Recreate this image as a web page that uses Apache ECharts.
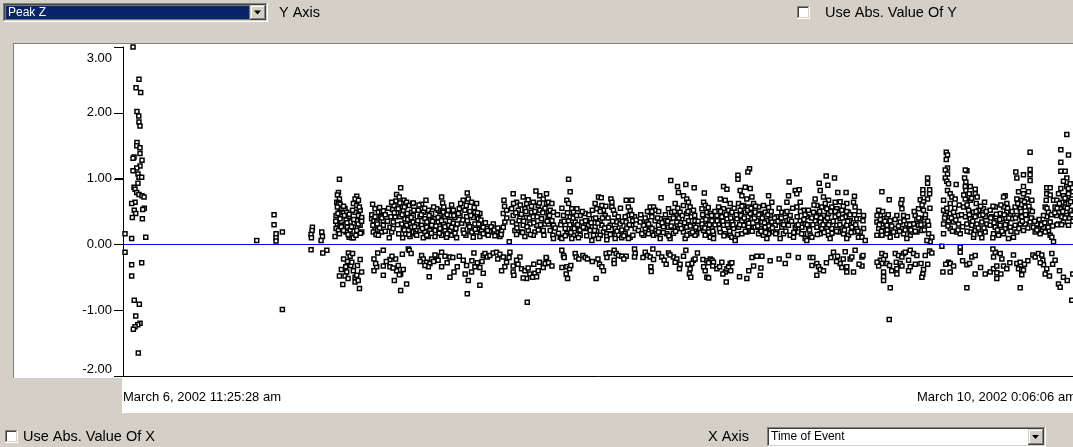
<!DOCTYPE html>
<html><head><meta charset="utf-8">
<script src="https://cdn.jsdelivr.net/npm/echarts@6/dist/echarts.min.js"></script>
<style>
html,body{margin:0;padding:0;background:#D4D0C8;}
#wrap{position:relative;width:1073px;height:447px;overflow:hidden;}
.panel{position:absolute;background:#FFFFFF;}
#c{position:absolute;left:0;top:0;width:1073px;height:447px;}
</style>
</head><body><div id="wrap">
<div class="panel" style="left:14px;top:44px;width:1059px;height:334px;"></div>
<div class="panel" style="left:122px;top:376px;width:951px;height:37px;"></div>
<div id="c"></div></div>
<script>
// ---- axis / labels ----
const startLabel = 'March 6, 2002 11:25:28 am';
const endLabel = 'March 10, 2002 0:06:06 am';
const spanHours = 84.677;           // hours between the two end labels
const yMin = -2, yMax = 3, yStep = 1;
const yTickValues = [-2, -1, 0, 1, 2, 3];
const yAxisTitle = 'Y Axis', xAxisTitle = 'X Axis';
const ySelection = 'Peak Z', xSelection = 'Time of Event';
const absYText = 'Use Abs. Value Of Y', absXText = 'Use Abs. Value Of X';

// ---- data: [hours since start, Peak Z] ----
const earlyBurst = [[0.89,3.00],[1.42,2.51],[1.16,2.38],[1.57,2.31],[1.24,2.02],[1.40,1.95],[1.42,1.86],[1.51,1.80],[1.24,1.55],[1.22,1.50],[1.51,1.47],[1.51,1.38],[0.98,1.33],[0.89,1.31],[1.69,1.28],[1.51,1.19],[1.22,1.16],[0.89,1.12],[1.33,1.07],[1.42,1.02],[1.66,1.02],[1.33,0.93],[0.98,0.87],[1.07,0.84],[1.22,0.79],[1.42,0.76],[1.69,0.74],[1.87,0.72],[1.07,0.64],[0.77,0.62],[1.89,0.55],[1.75,0.53],[1.00,0.52],[1.13,0.47],[0.83,0.41],[1.72,0.39],[0.18,0.16],[0.77,0.09],[2.02,0.11],[0.18,-0.12],[0.77,-0.31],[1.66,-0.28],[0.77,-0.48],[1.00,-0.85],[1.45,-0.91],[1.13,-1.09],[1.51,-1.20],[1.31,-1.22],[1.07,-1.25],[0.92,-1.29],[1.36,-1.65]];
const sparseRun = [[11.88,0.06],[13.42,0.45],[13.42,0.30],[13.60,0.16],[13.60,0.10],[13.60,0.05],[14.16,0.19],[14.16,-0.99],[16.83,0.26],[16.80,0.21],[16.71,0.15],[16.74,0.10],[16.71,-0.08],[17.66,0.19],[17.72,0.12],[17.60,0.06],[18.11,-0.09],[17.75,-0.13]];
const band1 = [[19.23,0.99],[19.14,0.79],[19.05,0.75],[19.23,0.69],[18.99,0.64],[19.14,0.62],[19.29,0.61],[19.05,0.57],[19.44,0.54],[19.23,0.49],[18.93,0.44],[19.29,0.39],[19.05,0.31],[19.29,0.29],[18.93,0.24],[19.14,0.21],[18.84,0.12],[19.23,0.16],
[19.73,0.54],[19.88,0.49],[19.67,0.44],[20.03,0.42],[19.82,0.37],[20.18,0.34],[19.73,0.30],[19.94,0.26],[20.18,0.22],[19.82,0.19],[20.09,0.11],[20.33,0.10],
[20.77,0.73],[20.62,0.69],[20.92,0.67],[20.47,0.62],[20.77,0.59],[21.07,0.52],[20.62,0.49],[20.92,0.44],[21.21,0.41],[20.77,0.36],[21.07,0.29],[20.47,0.26],[20.77,0.21],[21.21,0.19],[20.18,0.14],[20.47,0.10],
[20.03,-0.13],[20.18,-0.18],[19.94,-0.26],[19.79,-0.34],[20.24,-0.32],[19.88,-0.42],[19.23,-0.48],[19.73,-0.48],[19.53,-0.61],[20.62,-0.50],[20.77,-0.47],[20.83,-0.32],[21.07,-0.23],[21.01,-0.67],[20.62,-0.57],[20.47,-0.40],[20.33,-0.27],
[22.18,0.61],[22.39,0.54],[22.69,0.49],[22.98,0.50],[23.13,0.51],[22.09,0.39],[22.30,0.36],[22.54,0.34],[22.89,0.42],[23.13,0.36],[22.39,0.26],[22.63,0.22],[22.24,0.19],[22.98,0.19],[22.48,0.15],[22.69,0.14],[23.13,0.29],
[23.66,0.10],[23.87,0.19],[23.72,0.26],[24.02,0.34],[24.17,0.42],[24.31,0.48],[23.93,0.53],[24.25,0.66],[24.31,0.76],[24.08,0.59],[23.87,0.64],
[24.67,0.86],[24.55,0.72],[24.97,0.67],[24.76,0.62],[25.20,0.64],[25.44,0.59],[24.46,0.54],[24.91,0.52],[25.26,0.47],[25.65,0.49],[25.79,0.44],[24.61,0.42],[25.05,0.39],[25.44,0.37],[25.79,0.34],[24.76,0.31],[25.20,0.29],[25.65,0.26],[24.91,0.24],[25.35,0.21],[25.79,0.19],[24.85,0.10],[25.11,0.16],[25.50,0.12],[26.00,0.16],[25.73,0.62],[25.85,0.52],
[22.63,-0.13],[23.13,-0.09],[22.30,-0.22],[22.54,-0.34],[22.45,-0.29],[23.13,-0.33],[23.72,-0.23],[24.22,-0.22],[24.46,-0.32],[24.31,-0.40],[24.67,-0.45],[24.55,-0.46],[24.11,-0.55],[25.20,-0.60],[24.67,-0.70],[24.82,-0.15],[25.35,-0.07],[25.44,-0.09],[22.30,-0.40],[23.72,-0.34],[23.13,-0.47]];
const band2 = [[26.92,0.67],[26.53,0.61],[26.24,0.52],[26.68,0.49],[27.13,0.52],[27.42,0.47],[26.39,0.42],[26.83,0.39],[27.27,0.37],[27.72,0.39],[26.09,0.31],[26.53,0.29],[26.98,0.26],[27.42,0.29],[26.39,0.21],[26.83,0.19],[27.27,0.21],[27.72,0.21],[26.09,0.14],[26.68,0.10],[27.13,0.12],[27.72,0.12],[25.79,0.63],
[28.31,0.72],[28.40,0.63],[28.01,0.52],[28.46,0.49],[28.90,0.52],[29.35,0.52],[28.16,0.44],[28.61,0.42],[29.05,0.44],[29.49,0.41],[28.01,0.34],[28.46,0.31],[28.90,0.29],[29.35,0.32],[28.16,0.24],[28.61,0.21],[29.05,0.21],[29.58,0.24],[28.31,0.14],[28.75,0.11],[29.20,0.14],[29.64,0.10],[27.87,0.54],
[26.53,-0.17],[26.68,-0.22],[26.98,-0.27],[27.27,-0.29],[27.13,-0.34],[26.83,-0.32],[27.42,-0.22],[27.87,-0.18],[28.31,-0.12],[28.61,-0.18],[29.05,-0.19],[27.21,-0.49],[28.31,-0.34],[29.05,-0.50],[27.72,-0.16]];
const band3 = [[30.59,0.78],[30.23,0.67],[30.68,0.69],[30.97,0.64],[31.42,0.62],[29.88,0.54],[30.38,0.52],[30.83,0.50],[31.27,0.49],[31.71,0.47],[29.94,0.44],[30.53,0.42],[31.12,0.41],[31.57,0.39],[30.09,0.32],[30.68,0.30],[31.27,0.31],[31.71,0.29],[30.23,0.22],[30.83,0.21],[31.42,0.19],[31.86,0.21],[30.47,0.14],[31.12,0.11],[31.71,0.12],
[32.90,0.31],[32.31,0.24],[32.60,0.19],[33.19,0.18],[33.64,0.21],[32.01,0.16],[32.45,0.14],[33.05,0.13],[33.49,0.12],[33.79,0.26],[33.85,0.67],[33.79,0.47],[34.08,0.52],[33.93,0.34],[34.32,0.04],
[29.41,-0.42],[29.70,-0.34],[29.88,-0.18],[30.23,-0.24],[30.53,-0.32],[30.68,-0.55],[30.59,-0.75],[30.97,-0.42],[31.27,-0.34],[31.48,-0.28],[31.71,-0.35],[32.01,-0.44],[31.71,-0.62],[31.18,-0.13],[32.01,-0.17],[32.31,-0.18],
[32.16,-0.14],[32.37,-0.19],[32.60,-0.17],[32.90,-0.13],[33.19,-0.12],[33.49,-0.15],[33.79,-0.19],[34.08,-0.27],[33.93,-0.34],[33.64,-0.40],[34.38,-0.12],[35.27,-0.19],[34.97,-0.24],[34.67,-0.33],[34.67,-0.42],[34.73,-0.47]];
const band4 = [[34.67,0.77],[35.56,0.72],[36.69,0.81],[37.04,0.74],[37.63,0.77],[37.34,0.69],[34.97,0.64],[35.86,0.62],[36.45,0.64],[36.89,0.59],[37.63,0.62],[34.53,0.54],[35.12,0.52],[35.71,0.54],[36.30,0.49],[37.04,0.52],[37.78,0.49],[34.67,0.44],[35.27,0.42],[35.86,0.41],[36.45,0.42],[37.19,0.39],[37.78,0.42],[34.97,0.31],[35.56,0.29],[36.15,0.31],[36.75,0.29],[37.49,0.31],[34.82,0.21],[35.41,0.19],[36.01,0.21],[36.60,0.19],[37.34,0.21],[34.97,0.15],[35.71,0.12],[36.45,0.14],
[35.41,-0.37],[35.71,-0.40],[36.15,-0.45],[35.86,-0.52],[36.39,-0.50],[36.60,-0.44],[36.75,-0.49],[36.89,-0.40],[37.34,-0.35],[37.57,-0.29],[37.63,-0.22],[35.92,-0.88],[35.56,-0.51]];
const band5 = [[37.81,0.64],[38.11,0.62],[37.96,0.52],[38.25,0.49],[38.11,0.36],[37.81,0.31],[38.25,0.29],[37.96,0.21],[38.20,0.14],[38.25,0.09],
[39.59,0.99],[39.73,0.80],[39.44,0.67],[39.59,0.62],[39.88,0.54],[40.33,0.54],[39.14,0.44],[40.03,0.49],[40.62,0.44],[38.99,0.34],[39.59,0.36],[40.18,0.34],[40.77,0.34],[39.29,0.24],[39.88,0.26],[40.47,0.21],[38.85,0.11],[39.44,0.16],[40.03,0.14],[40.62,0.14],[38.99,0.09],[39.88,0.09],[40.47,0.10],[41.07,0.47],[39.73,0.42],
[42.25,0.72],[42.49,0.71],[41.95,0.62],[42.55,0.59],[42.10,0.54],[42.69,0.52],[42.84,0.44],[41.21,0.36],[41.81,0.39],[42.40,0.36],[41.36,0.29],[41.95,0.27],[42.55,0.29],[41.51,0.21],[42.10,0.20],[42.69,0.19],[41.07,0.24],[41.81,0.14],[42.40,0.14],[42.99,0.16],[41.66,0.06],[42.25,0.09],
[43.35,0.69],[43.44,0.64],[43.44,0.57],[43.58,0.52],[44.71,0.67],[45.21,0.67],[45.06,0.52],[44.91,0.44],[44.62,0.42],[43.88,0.34],[44.17,0.31],[43.29,0.29],[43.73,0.24],[44.32,0.22],[44.77,0.25],[42.99,0.12],[43.44,0.16],[44.03,0.14],[44.62,0.16],[45.06,0.11],[42.99,0.07],[43.73,0.09],[44.32,0.10],[44.91,0.09],[43.14,0.26],
[45.45,0.42],[45.30,0.36],[45.21,0.29],[45.51,0.24],[46.25,0.31],[46.84,0.57],[47.14,0.57],[47.28,0.52],[46.84,0.49],[46.99,0.42],[47.28,0.36],[46.54,0.36],[46.40,0.24],[46.84,0.26],[47.28,0.21],[46.25,0.14],[46.69,0.16],[47.14,0.14],[47.43,0.16],[46.25,0.29],[45.95,0.34],
[47.81,0.71],[48.67,0.97],[49.27,0.88],[49.35,0.79],[49.06,0.62],[48.47,0.54],[48.76,0.49],[49.21,0.44],[47.73,0.39],[48.17,0.36],[48.61,0.39],[49.21,0.34],[47.58,0.29],[48.02,0.27],[48.47,0.26],[48.91,0.26],[49.35,0.24],[47.58,0.19],[48.32,0.16],[48.91,0.17],[47.73,0.09],[48.61,0.09],
[50.01,0.91],[50.75,0.86],[49.80,0.74],[50.09,0.69],[50.24,0.64],[49.80,0.59],[50.39,0.57],[49.50,0.49],[50.09,0.47],[50.69,0.52],[49.65,0.39],[50.24,0.36],[50.83,0.36],[49.50,0.29],[50.09,0.26],[50.69,0.29],[51.13,0.24],[49.80,0.19],[50.39,0.16],[50.98,0.16],[49.95,0.09],[50.83,0.14]];
const band6 = [[37.60,-0.20],[37.51,-0.29],[37.81,-0.28],[38.11,-0.33],[38.99,-0.09],[39.14,-0.17],[39.20,-0.20],[39.44,-0.34],[39.68,-0.37],[39.79,-0.32],[39.38,-0.45],[39.50,-0.52],[40.18,-0.14],[40.27,-0.19],[40.86,-0.17],[41.07,-0.20],[41.27,-0.22],[42.34,-0.30],[42.55,-0.34],[42.69,-0.40],[42.04,-0.52],[42.93,-0.14],[43.23,-0.13],[43.64,-0.09],[43.82,-0.14],[44.03,-0.17],[44.32,-0.18],[44.71,-0.18],[43.64,-0.24],[43.64,-0.29],[45.45,-0.07],[45.51,-0.14],[45.45,-0.19],[46.40,-0.12],[46.60,-0.17],[46.84,-0.19],[47.14,-0.23],[47.08,-0.07],[46.90,-0.34],[46.93,-0.41],[47.58,-0.14],[47.87,-0.19],[48.08,-0.24],[48.26,-0.30],[48.47,-0.13],[48.91,-0.19],[49.21,-0.22],[49.06,-0.27],[49.50,-0.30],[49.44,-0.37],[50.01,-0.09],[50.69,-0.24],[50.54,-0.29],[50.83,-0.22],[50.39,-0.37],[50.33,-0.45],[50.45,-0.50],[51.04,-0.13]];
const band7 = [[51.65,0.78],[51.59,0.64],[51.73,0.59],[51.44,0.54],[51.88,0.49],[52.18,0.47],[51.59,0.42],[52.03,0.37],[52.33,0.36],[51.44,0.31],[51.88,0.29],[52.33,0.26],[51.59,0.21],[52.03,0.19],[52.47,0.16],[51.73,0.14],[52.18,0.11],[52.47,0.09],
[53.36,0.88],[53.66,0.84],[53.07,0.69],[53.51,0.67],[53.95,0.62],[52.92,0.57],[53.36,0.54],[53.81,0.52],[54.10,0.49],[52.77,0.44],[53.21,0.42],[53.66,0.39],[54.10,0.36],[52.92,0.31],[53.36,0.29],[53.81,0.26],[54.25,0.24],[53.07,0.19],[53.51,0.16],[53.95,0.14],[54.10,0.11],[54.40,0.09],[54.40,0.06],
[55.67,1.15],[55.52,1.10],[54.64,1.05],[54.64,0.99],[54.84,0.82],[55.29,0.87],[55.73,0.85],[54.99,0.74],[55.43,0.69],[55.88,0.72],[54.69,0.62],[55.14,0.59],[55.58,0.57],[56.03,0.62],[54.84,0.52],[55.29,0.49],[55.73,0.47],[54.55,0.39],[54.99,0.36],[55.43,0.36],[55.88,0.39],[54.69,0.26],[55.14,0.29],[55.58,0.27],[56.03,0.26],[54.99,0.16],[55.43,0.19],
[57.36,0.74],[57.65,0.64],[56.47,0.57],[56.91,0.59],[57.36,0.56],[56.17,0.49],[56.62,0.47],[57.06,0.49],[57.51,0.44],[56.32,0.36],[56.77,0.34],[57.21,0.36],[57.65,0.34],[56.17,0.26],[56.62,0.24],[57.06,0.26],[57.51,0.24],[56.47,0.16],[56.91,0.14],[57.36,0.16],[57.80,0.19],[57.21,0.09],
[59.19,0.95],[59.13,0.74],[58.99,0.64],[58.54,0.49],[58.10,0.42],[58.84,0.47],[59.28,0.44],[58.39,0.34],[58.99,0.36],[57.95,0.29],[58.54,0.26],[59.13,0.29],[58.10,0.19],[58.69,0.16],[59.28,0.14],[58.39,0.09],[59.58,0.11],[59.73,0.26],
[59.73,0.82],[60.08,0.83],[59.87,0.77],[60.17,0.64],[60.47,0.52],[59.87,0.57],[60.76,0.42],[60.17,0.36],[60.61,0.31],[59.87,0.29],[60.32,0.26],[60.91,0.24],[60.02,0.19],[60.47,0.16],[61.06,0.14],[60.61,0.09],[61.21,0.11],[60.76,0.06],
[61.86,0.93],[62.63,0.90],[62.48,1.04],[61.95,0.82],[61.50,0.69],[62.24,0.72],[62.69,0.67],[61.65,0.59],[62.09,0.57],[62.54,0.54],[62.98,0.57],[61.35,0.49],[61.80,0.47],[62.24,0.44],[62.69,0.47],[61.50,0.36],[61.95,0.34],[62.39,0.36],[62.83,0.34],[61.65,0.26],[62.09,0.24],[62.54,0.26],[62.98,0.24],[61.95,0.16],[62.69,0.14],[62.83,0.09],
[63.22,1.01],[63.51,0.79],[64.25,0.79],[64.99,0.73],[63.28,0.64],[63.72,0.65],[64.31,0.62],[64.91,0.64],[63.43,0.54],[63.87,0.52],[64.46,0.49],[65.05,0.57],[63.28,0.42],[63.72,0.39],[64.17,0.42],[64.61,0.36],[65.20,0.39],[63.43,0.29],[63.87,0.26],[64.31,0.29],[64.76,0.26],[65.20,0.24],[63.57,0.19],[64.02,0.16],[64.46,0.14],[64.91,0.19],[65.35,0.11],[64.31,0.09]];
const band8 = [[51.53,-0.23],[51.88,-0.25],[52.18,-0.22],[52.33,-0.24],[52.47,-0.27],[52.03,-0.28],[51.59,-0.34],[51.73,-0.40],[51.88,-0.50],[52.03,-0.51],[52.77,-0.37],[53.01,-0.34],[53.21,-0.27],[53.51,-0.42],[53.66,-0.37],[53.81,-0.34],[53.95,-0.29],[53.60,-0.57],[54.10,-0.28],[54.78,-0.49],[55.43,-0.52],[55.88,-0.20],[56.32,-0.18],[56.77,-0.18],[56.03,-0.33],[56.68,-0.36],[56.62,-0.47],[58.84,-0.29],[59.13,-0.17],[61.06,-0.20],[61.30,-0.20],[61.21,-0.32],[61.65,-0.29],[61.80,-0.34],[61.95,-0.38],[61.65,-0.47],[62.24,-0.40],[63.13,-0.12],[63.49,-0.18],[64.17,-0.11],[63.72,-0.29],[63.87,-0.35],[64.31,-0.34],[64.61,-0.22],[64.76,-0.19],[65.05,-0.09],[64.31,-0.42],[64.91,-0.42]];
const band9 = [[65.51,0.39],[65.80,0.44],[65.75,0.36],[65.80,0.24],[65.66,0.11],[65.95,0.06],[65.51,0.19],
[67.43,0.80],[68.08,0.68],[67.14,0.52],[67.29,0.44],[67.58,0.39],[67.88,0.41],[66.99,0.34],[67.43,0.31],[67.88,0.29],[68.17,0.36],[67.14,0.24],[67.58,0.21],[68.02,0.19],[66.99,0.14],[67.43,0.14],[67.88,0.16],[68.17,0.11],[67.29,0.38],
[69.21,0.68],[69.12,0.62],[69.21,0.54],[68.76,0.44],[69.36,0.44],[69.06,0.34],[69.65,0.31],[68.62,0.24],[69.21,0.24],[69.80,0.24],[70.10,0.31],[68.76,0.14],[69.36,0.16],[69.95,0.14],[68.47,0.19],[70.10,0.19],[69.65,0.09],
[71.49,1.01],[71.49,0.93],[71.07,0.83],[71.67,0.83],[71.07,0.77],[71.67,0.77],[71.49,0.69],[70.84,0.68],[71.13,0.65],[70.69,0.54],[71.13,0.52],[70.39,0.44],[70.84,0.39],[71.28,0.41],[70.24,0.31],[70.69,0.29],[71.13,0.31],[71.58,0.29],[70.54,0.19],[70.98,0.21],[71.58,0.16],[71.87,0.11],[71.72,0.04],[71.43,0.06],[70.54,0.38],
[73.15,1.40],[73.26,1.36],[73.15,1.29],[73.26,1.16],[73.06,1.13],[73.26,1.07],[73.06,1.01],[73.20,0.96],[73.35,0.92],[73.26,0.82],[73.50,0.77],[73.65,0.72],[73.94,0.69],[74.03,0.91],[72.91,0.67],[72.91,0.52],[73.06,0.44],[73.50,0.47],[73.80,0.49],[74.24,0.44],[72.91,0.31],[73.35,0.36],[73.80,0.34],[74.24,0.31],[72.91,0.16],[74.09,0.19],[74.39,0.16],[73.50,0.24],
[74.98,1.12],[74.84,1.13],[74.78,1.01],[74.89,0.95],[74.84,0.88],[75.28,0.88],[74.89,0.82],[75.19,0.77],[75.72,0.84],[75.72,0.77],[74.84,0.69],[75.28,0.67],[75.81,0.62],[76.55,0.64],[74.69,0.57],[75.13,0.52],[75.57,0.49],[76.02,0.52],[76.46,0.54],[74.84,0.42],[75.28,0.39],[75.72,0.42],[76.16,0.44],[76.61,0.42],[74.98,0.31],[75.42,0.29],[75.87,0.31],[76.31,0.34],[76.76,0.31],[75.28,0.19],[75.72,0.21],[76.16,0.16],[76.61,0.19],[75.57,0.11],[76.31,0.10],
[78.38,0.74],[78.24,0.72],[78.53,0.62],[78.24,0.57],[77.05,0.52],[77.50,0.57],[77.94,0.47],[78.53,0.49],[78.83,0.44],[77.20,0.42],[77.64,0.36],[78.09,0.39],[78.53,0.34],[78.98,0.39],[77.05,0.29],[77.50,0.26],[77.94,0.29],[78.38,0.24],[78.83,0.26],[77.35,0.16],[77.79,0.14],[78.24,0.16],[78.68,0.09],[79.12,0.11],[77.29,0.10],
[80.60,1.40],[80.60,1.14],[80.60,1.06],[80.01,1.06],[80.60,0.97],[79.33,1.10],[79.42,1.01],[80.01,0.88],[79.57,0.80],[80.01,0.77],[80.46,0.80],[79.42,0.69],[79.86,0.67],[80.31,0.69],[80.75,0.67],[79.27,0.57],[79.72,0.54],[80.16,0.57],[80.60,0.52],[79.42,0.44],[79.86,0.42],[80.31,0.44],[80.75,0.39],[79.27,0.29],[79.72,0.31],[80.16,0.31],[80.60,0.34],[79.42,0.19],[80.01,0.21],
[80.90,0.26],[81.34,0.24],[81.79,0.26],[82.23,0.21],[81.05,0.19],[81.49,0.16],[81.94,0.19],[82.38,0.14],[81.20,0.31],[82.08,0.86],[82.38,0.86],[82.08,0.77],[82.38,0.75],[82.68,0.67],[82.03,0.67],[81.94,0.57],[82.23,0.49],[82.08,0.42],[82.38,0.34],[81.79,0.44],[82.53,0.11],[82.68,0.04],
[83.86,1.67],[83.33,1.44],[84.01,1.36],[83.33,1.25],[83.33,1.11],[83.71,1.11],[83.86,1.01],[83.56,0.96],[83.33,0.85],[83.86,0.88],[84.16,0.92],[83.12,0.77],[83.56,0.74],[84.01,0.77],[82.97,0.67],[83.42,0.64],[83.86,0.67],[84.30,0.69],[82.82,0.57],[83.27,0.54],[83.71,0.57],[84.16,0.52],[82.97,0.44],[83.42,0.42],[83.86,0.44],[83.12,0.31],[83.56,0.34],[84.01,0.29],[84.01,0.62]];
const band10 = [[65.66,-0.19],[65.66,-0.33],[65.75,-0.17],[67.43,-0.14],[67.73,-0.17],[67.29,-0.24],[67.58,-0.23],[67.43,-0.29],[67.14,-0.33],[67.88,-0.29],[68.11,-0.32],[67.58,-0.42],[67.58,-0.49],[67.58,-0.55],[68.17,-0.66],[68.08,-1.14],[68.62,-0.14],[68.91,-0.17],[69.36,-0.14],[69.21,-0.19],[68.71,-0.27],[69.06,-0.29],[68.76,-0.37],[69.21,-0.33],[68.76,-0.45],[69.51,-0.12],[69.95,-0.09],[70.24,-0.14],[70.54,-0.17],[69.80,-0.24],[69.95,-0.34],[69.80,-0.40],[70.90,-0.29],[71.13,-0.38],[71.07,-0.45],[70.98,-0.50],[71.28,-0.17],[71.67,-0.10],[71.87,-0.13],[72.76,-0.03],[72.85,-0.42],[73.50,-0.42],[73.35,-0.27],[73.50,-0.29],[73.80,-0.33],[74.39,-0.04],[74.39,-0.12],[74.98,-0.66],[74.98,-0.31],[75.22,-0.29],[75.42,-0.19],[75.72,-0.17],[75.72,-0.45],[76.61,-0.45],[77.05,-0.42],[77.35,-0.37],[77.64,-0.33],[77.64,-0.43],[77.64,-0.52],[77.50,-0.12],[77.94,-0.14],[78.09,-0.22],[78.24,-0.33],[78.53,-0.37],[77.29,-0.07],[77.35,-0.19],[79.12,-0.16],[79.42,-0.29],[79.72,-0.27],[79.57,-0.37],[79.86,-0.38],[80.01,-0.39],[79.86,-0.46],[79.72,-0.66],[80.84,-0.16],[81.05,-0.19],[81.34,-0.14],[81.64,-0.16],[81.73,-0.24],[81.79,-0.31],[82.08,-0.37],[81.94,-0.45],[82.32,-0.48],[82.53,-0.14],[82.82,-0.24],[83.21,-0.40],[83.56,-0.50],[83.12,-0.60],[83.27,-0.65],[84.30,-0.85],[84.39,-0.45]];
// points inside the solid (overplotted) parts of the band
const coreEarly = [[18.9,0.35],[19.1,0.47],[19.4,0.27],[19.6,0.58],[19.6,0.21],[19.9,0.33],[20.0,0.15],[20.1,0.46],[20.3,0.27],[20.4,0.52],[20.5,0.38],[20.7,0.14],[20.9,0.31],[21.0,0.57],[21.1,0.17],[21.2,0.35],[19.4,-0.38],[19.6,-0.22],[20.0,-0.52],[20.4,-0.14],[20.9,-0.55],[21.2,-0.42],
[22.1,0.45],[22.2,0.29],[22.4,0.42],[22.6,0.31],[22.8,0.56],[22.8,0.25],[23.0,0.40],[23.3,0.45],[23.3,0.20],[23.5,0.35],[23.6,0.55],[23.8,0.42],[24.0,0.24],[24.1,0.48],[24.4,0.30],[24.5,0.16],[24.6,0.63],[24.8,0.45],[25.0,0.57],[25.0,0.22],[25.3,0.38],[25.4,0.15],[25.6,0.41],[25.9,0.27],[23.4,-0.26],[23.9,-0.18],[24.0,-0.36],[24.9,-0.38],[25.6,-0.14],
[26.2,0.36],[26.3,0.60],[26.5,0.45],[26.6,0.24],[26.8,0.55],[27.0,0.34],[27.0,0.14],[27.2,0.44],[27.4,0.17],[27.5,0.35],[27.6,0.57],[27.8,0.28],[28.0,0.41],[28.1,0.17],[28.3,0.36],[28.5,0.57],[28.6,0.27],[28.8,0.45],[28.8,0.16],[29.0,0.35],[29.2,0.60],[29.2,0.26],[29.4,0.44],[29.5,0.17],[29.7,0.31],[29.8,0.47],[26.4,-0.26],[27.6,-0.26],[28.0,-0.24],[28.8,-0.28],[29.3,-0.20],
[30.0,0.62],[30.2,0.37],[30.3,0.17],[30.5,0.59],[30.6,0.36],[30.8,0.27],[30.9,0.44],[31.0,0.19],[31.2,0.56],[31.3,0.23],[31.5,0.48],[31.6,0.31],[31.8,0.37],[32.0,0.26],[32.2,0.33],[32.4,0.21],[32.7,0.27],[33.0,0.22],[33.3,0.25],[33.6,0.15],[33.9,0.58],[34.1,0.40],[30.4,-0.45],[31.0,-0.25],[31.9,-0.26],[33.3,-0.22],[34.3,-0.20]];
const coreMid = [[34.6,0.34],[34.7,0.62],[34.9,0.48],[35.0,0.25],[35.2,0.36],[35.3,0.60],[35.4,0.46],[35.5,0.18],[35.6,0.35],[35.8,0.50],[35.9,0.27],[36.0,0.68],[36.1,0.40],[36.2,0.15],[36.3,0.58],[36.5,0.33],[36.6,0.50],[36.8,0.42],[36.9,0.22],[37.0,0.63],[37.1,0.30],[37.3,0.48],[37.4,0.14],[37.5,0.55],[37.7,0.35],[37.9,0.44],[35.1,-0.30],[36.0,-0.36],[36.5,-0.30],[37.0,-0.27],
[38.4,0.25],[38.6,0.45],[38.7,0.17],[38.9,0.30],[39.0,0.55],[39.2,0.35],[39.3,0.13],[39.5,0.48],[39.7,0.30],[39.8,0.18],[40.0,0.40],[40.1,0.24],[40.3,0.44],[40.4,0.30],[40.6,0.22],[40.8,0.50],[40.9,0.26],[41.1,0.36],[41.2,0.13],[41.4,0.45],[41.6,0.33],[41.7,0.52],[41.9,0.21],[42.0,0.40],[39.0,-0.35],[40.5,-0.22],[41.7,-0.26],
[42.2,0.32],[42.4,0.50],[42.6,0.40],[42.8,0.25],[42.9,0.58],[43.1,0.40],[43.3,0.15],[43.5,0.35],[43.7,0.46],[43.9,0.20],[44.0,0.42],[44.2,0.55],[44.4,0.35],[44.5,0.13],[44.7,0.34],[44.9,0.57],[45.0,0.30],[45.2,0.45],[45.3,0.14],[45.6,0.37],[45.8,0.21],[46.0,0.45],[46.1,0.16],[46.4,0.40],[46.6,0.50],[46.7,0.31],[47.0,0.24],[47.0,0.50],[42.2,-0.22],[43.0,-0.20],[44.5,-0.22],[46.2,-0.20],
[47.5,0.40],[47.6,0.50],[47.9,0.33],[48.0,0.18],[48.2,0.45],[48.4,0.35],[48.5,0.13],[48.7,0.28],[48.9,0.40],[49.0,0.50],[49.1,0.20],[49.3,0.55],[49.4,0.40],[49.6,0.24],[49.7,0.44],[49.9,0.33],[50.1,0.14],[50.2,0.50],[50.4,0.28],[50.5,0.42],[50.6,0.19],[50.8,0.44],[50.9,0.26],[51.1,0.35],[48.6,-0.16],[49.8,-0.18],[50.2,-0.30]];
const coreLate = [[51.5,0.45],[51.7,0.25],[51.8,0.38],[52.0,0.56],[52.1,0.30],[52.3,0.44],[52.4,0.20],[52.6,0.50],[52.6,0.30],[52.8,0.36],[53.0,0.24],[53.1,0.50],[53.3,0.35],[53.4,0.13],[53.6,0.45],[53.7,0.30],[53.9,0.20],[54.0,0.40],[54.2,0.30],[54.3,0.55],[54.5,0.45],[54.6,0.15],[54.8,0.30],[54.9,0.44],[52.4,-0.33],[53.3,-0.45],[54.0,-0.40],
[55.0,0.58],[55.2,0.40],[55.3,0.20],[55.5,0.52],[55.6,0.32],[55.8,0.55],[55.9,0.20],[56.1,0.40],[56.2,0.58],[56.4,0.28],[56.5,0.45],[56.7,0.20],[56.8,0.40],[57.0,0.33],[57.1,0.18],[57.3,0.45],[57.4,0.28],[57.6,0.50],[57.7,0.25],[57.9,0.40],[58.0,0.16],[58.2,0.35],[58.3,0.55],[58.5,0.40],[58.7,0.30],[58.9,0.20],[59.0,0.50],[59.2,0.38],[55.6,-0.40],[57.5,-0.25],[58.3,-0.22],
[59.4,0.35],[59.5,0.55],[59.6,0.18],[59.9,0.42],[60.0,0.30],[60.2,0.50],[60.3,0.16],[60.5,0.38],[60.6,0.45],[60.8,0.30],[60.9,0.52],[61.0,0.22],[61.2,0.40],[61.3,0.30],[61.4,0.60],[61.6,0.42],[61.7,0.15],[61.9,0.50],[62.0,0.40],[62.2,0.30],[62.3,0.18],[62.4,0.62],[62.6,0.40],[62.7,0.30],[62.9,0.50],[63.0,0.17],[63.1,0.35],[60.0,-0.20],[62.5,-0.28],[62.9,-0.20],
[63.3,0.50],[63.4,0.20],[63.6,0.45],[63.7,0.30],[63.9,0.40],[64.0,0.58],[64.1,0.22],[64.3,0.50],[64.4,0.35],[64.6,0.45],[64.7,0.18],[64.9,0.33],[65.0,0.45],[65.1,0.30],[65.3,0.20],[65.4,0.50],[63.4,-0.26],[64.0,-0.22],[65.4,-0.30]];
const coreEnd = [[67.0,0.44],[67.2,0.30],[67.4,0.20],[67.5,0.50],[67.7,0.35],[67.9,0.22],[68.0,0.45],[68.3,0.28],[68.6,0.38],[68.9,0.28],[69.0,0.20],[69.4,0.36],[69.5,0.22],[69.7,0.42],[69.9,0.30],[70.0,0.22],[70.3,0.50],[70.4,0.20],[70.7,0.40],[70.9,0.30],[71.0,0.60],[71.2,0.22],[71.3,0.45],[71.5,0.35],[71.7,0.55],[67.0,-0.27],[68.3,-0.40],[70.4,-0.30],[71.5,-0.30],
[73.0,0.40],[73.2,0.55],[73.3,0.28],[73.5,0.62],[73.6,0.40],[73.7,0.20],[73.9,0.55],[74.0,0.37],[74.2,0.22],[74.3,0.60],[74.5,0.45],[74.6,0.27],[74.7,0.75],[75.0,0.60],[75.0,0.20],[75.2,0.45],[75.4,0.70],[75.5,0.35],[75.6,0.15],[75.8,0.50],[75.9,0.72],[76.0,0.25],[76.2,0.58],[76.4,0.45],[76.5,0.25],[76.7,0.50],[73.1,-0.30],[74.6,-0.25],[76.2,-0.35],
[77.1,0.40],[77.3,0.58],[77.4,0.33],[77.6,0.46],[77.7,0.22],[77.9,0.38],[78.0,0.60],[78.1,0.20],[78.3,0.45],[78.4,0.30],[78.6,0.55],[78.7,0.40],[78.9,0.20],[79.0,0.50],[78.0,-0.45],[78.8,-0.28],
[79.3,0.40],[79.5,0.62],[79.6,0.24],[79.8,0.50],[79.9,0.35],[80.1,0.65],[80.2,0.45],[80.4,0.25],[80.5,0.58],[80.7,0.40],[80.8,0.50],[80.4,-0.25],[80.1,-0.30],
[81.0,0.35],[81.2,0.22],[81.4,0.38],[81.6,0.30],[81.9,0.33],[82.1,0.55],[82.2,0.26],[82.5,0.45],[82.6,0.28],[82.8,0.48],[83.0,0.30],[83.0,0.55],[83.2,0.62],[83.4,0.30],[83.5,0.50],[83.7,0.40],[83.7,0.70],[83.9,0.55],[84.0,0.85],[84.1,0.40],[84.2,0.65],[84.3,0.45],[84.4,0.80],[84.4,0.35],[81.5,-0.28],[82.6,-0.30],[83.9,-0.55]];

const allPoints = [].concat(earlyBurst, sparseRun, band1, band2, band3, band4, band5, band6, band7, band8, band9, band10, coreEarly, coreMid, coreLate, coreEnd);

// ---- window chrome (layout only) ----
const FONT = '"Liberation Sans", Arial, sans-serif';
const els = [];
function rect(x,y,w,h,fill){ els.push({type:'rect', silent:true, z:10, shape:{x:x,y:y,width:w,height:h}, style:{fill:fill}}); }
function ln(x1,y1,x2,y2,c){ els.push({type:'line', silent:true, z:11, shape:{x1:x1,y1:y1,x2:x2,y2:y2}, style:{stroke:c,lineWidth:1}}); }
function txt(x,y,s,size,c){ els.push({type:'text', silent:true, z:12, x:x, y:y, style:{text:s, fill:c||'#000', font:size+'px '+FONT, verticalAlign:'middle', align:'left'}}); }
function sunken(x,y,w,h,fill){
  rect(x,y,w,h,fill);
  ln(x,y+0.5,x+w-1,y+0.5,'#808080'); ln(x+0.5,y,x+0.5,y+h-1,'#808080');
  ln(x+1,y+1.5,x+w-2,y+1.5,'#404040'); ln(x+1.5,y+1,x+1.5,y+h-2,'#404040');
  ln(x,y+h-0.5,x+w,y+h-0.5,'#FFFFFF'); ln(x+w-0.5,y,x+w-0.5,y+h,'#FFFFFF');
  ln(x+1,y+h-1.5,x+w-1,y+h-1.5,'#D4D0C8'); ln(x+w-1.5,y+1,x+w-1.5,y+h-1,'#D4D0C8');
}
function button(x,y,w,h){
  rect(x,y,w,h,'#D4D0C8');
  ln(x+1,y+1.5,x+w-2,y+1.5,'#FFFFFF'); ln(x+1.5,y+1,x+1.5,y+h-2,'#FFFFFF');
  ln(x,y+h-0.5,x+w,y+h-0.5,'#404040'); ln(x+w-0.5,y,x+w-0.5,y+h,'#404040');
  ln(x+1,y+h-1.5,x+w-1,y+h-1.5,'#808080'); ln(x+w-1.5,y+1,x+w-1.5,y+h-1,'#808080');
  const cx = x+w/2, cy = y+h/2;
  els.push({type:'polygon', silent:true, z:12, shape:{points:[[cx-4,cy-2],[cx+3,cy-2],[cx-0.5,cy+2]]}, style:{fill:'#000'}});
}
ln(13,43.5,1073,43.5,'#808080'); ln(13.5,43,13.5,378,'#808080');
// top controls
sunken(3,3,265,19,'#FFFFFF');
rect(5,5,245,15,'#0A246A');
els.push({type:'rect', silent:true, z:12, shape:{x:5.5,y:5.5,width:244,height:14}, style:{fill:null, stroke:'#D8D890', lineWidth:1, lineDash:[1,1]}});
txt(8,12.5,ySelection,12,'#FFFFFF');
button(250,5,16,15);
txt(279,12.5,yAxisTitle,14.5);
sunken(797,6,13,13,'#FFFFFF');
txt(825,12.5,absYText,14.5);
// bottom controls
sunken(5,430,13,13,'#FFFFFF');
txt(23,437,absXText,14.5);
txt(708,436.5,xAxisTitle,14.5);
sunken(767,427,279,20,'#FFFFFF');
txt(771,437,xSelection,12);
button(1028,429,16,16);

const chart = echarts.init(document.getElementById('c'), null, {renderer:'canvas'});
chart.setOption({
  animation:false,
  backgroundColor:'transparent',
  grid:{left:123, right:-3, top:47, bottom:71, outerBoundsMode:'none'},
  xAxis:{type:'value', min:0, max:spanHours, interval:spanHours,
    axisLine:{show:true, onZero:false, lineStyle:{color:'#000', width:1}}, axisTick:{show:false}, splitLine:{show:false},
    axisLabel:{margin:15, fontSize:13, color:'#000', fontFamily:FONT, showMinLabel:true, showMaxLabel:true,
      alignMinLabel:'left', alignMaxLabel:'right',
      formatter:function(v){ return v < spanHours/2 ? startLabel : endLabel; }}},
  yAxis:{type:'value', min:yMin, max:yMax, interval:yStep,
    axisLine:{show:true, onZero:false, lineStyle:{color:'#000', width:1}},
    axisTick:{show:true, length:8, lineStyle:{color:'#000', width:1}}, splitLine:{show:false},
    axisLabel:{margin:11, fontSize:13, color:'#000', fontFamily:FONT,
      formatter:function(v){ const s = v.toFixed(2); if (v === yMax) return '{t|'+s+'}'; if (v === yMin) return '{b|'+s+'}'; return s; },
      rich:{t:{padding:[22,0,0,0], fontSize:13, fontFamily:FONT, color:'#000'}, b:{padding:[0,0,14,0], fontSize:13, fontFamily:FONT, color:'#000'}}}},
  series:[{type:'scatter', data:allPoints, symbol:'rect', symbolSize:4, clip:false, silent:true, z:3,
    itemStyle:{color:'#FFFFFF', borderColor:'#000000', borderWidth:1.5, opacity:1},
    markLine:{silent:true, symbol:'none', label:{show:false}, animation:false,
      lineStyle:{color:'#0000FF', width:1, type:'solid'}, data:[{yAxis:0}]}}]
});
// y-axis tick marks, placed through the axis scale
const axisX = Math.round(chart.convertToPixel({xAxisIndex:0}, 0));
yTickValues.forEach(function(v){
  const py = Math.round(chart.convertToPixel({yAxisIndex:0}, v)) + 0.5;
  els.push({type:'line', silent:true, z:100, shape:{x1:axisX-9, y1:py, x2:axisX, y2:py}, style:{stroke:'#000', lineWidth:1}});
});
chart.setOption({graphic:{elements:els}});
</script></body></html>
